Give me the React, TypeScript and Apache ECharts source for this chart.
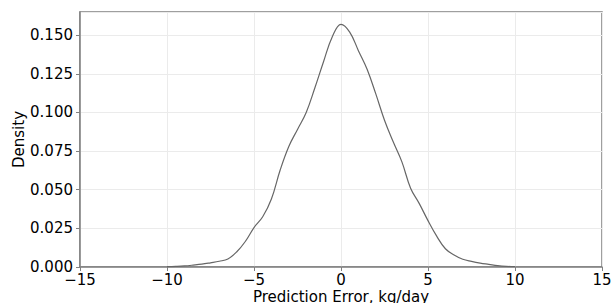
import React, { useEffect, useRef } from "react";
import * as echarts from "echarts";

const errorValues = [
  -10, -9.5, -9, -8.5, -8, -7.5, -7, -6.5, -6, -5.5, -5, -4.5, -4, -3.5, -3, -2.5, -2, -1.5, -1, -0.5,
  0, 0.5, 1, 1.5, 2, 2.5, 3, 3.5, 4, 4.5, 5, 5.5, 6, 6.5, 7, 7.5, 8, 8.5, 9, 9.5, 10,
];
const densityValues = [
  0.0002, 0.0004, 0.0007, 0.0012, 0.0018, 0.0027, 0.0037, 0.0052, 0.0097, 0.0165, 0.0255, 0.0325, 0.044,
  0.0626, 0.078, 0.089, 0.1, 0.116, 0.133, 0.149, 0.157, 0.152, 0.14, 0.128, 0.112, 0.095, 0.081, 0.068,
  0.051, 0.041, 0.03, 0.02, 0.0118, 0.0078, 0.005, 0.0036, 0.0025, 0.0017, 0.0009, 0.0004, 0.0002,
];
const xTicks = [-15, -10, -5, 0, 5, 10, 15];
const yTicks = [0, 0.025, 0.05, 0.075, 0.1, 0.125, 0.15];

const FONT = "DejaVu Sans";
const FS = 15;

export default function App() {
  const ref = useRef<HTMLDivElement>(null);
  useEffect(() => {
    if (!ref.current) return;
    const chart = echarts.init(ref.current, null, { renderer: "svg" });
    const data = errorValues.map((x, i) => [x, densityValues[i]]);
    chart.setOption({
      animation: false,
      backgroundColor: "#ffffff",
      grid: {
        left: 80,
        right: 9,
        top: 12,
        bottom: 36,
        containLabel: false,
        outerBoundsMode: "none",
        show: true,
        borderColor: "#808080",
        borderWidth: 1.5,
        backgroundColor: "transparent",
      },
      xAxis: {
        type: "value",
        min: xTicks[0],
        max: xTicks[xTicks.length - 1],
        interval: 5,
        name: "Prediction Error, kg/day",
        nameLocation: "middle",
        nameGap: 22,
        nameMoveOverlap: false,
        nameTextStyle: { fontFamily: FONT, fontSize: FS, color: "#000" },
        axisLine: { show: true, onZero: false, lineStyle: { color: "#808080", width: 1.5 } },
        axisTick: { show: true, length: 4, lineStyle: { color: "#808080", width: 1 } },
        axisLabel: {
          fontFamily: FONT,
          fontSize: FS,
          color: "#000",
          margin: 5,
          formatter: (v: number) => String(v).replace("-", "\u2212"),
        },
        splitLine: { show: true, lineStyle: { color: "#ebebeb", width: 1 } },
      },
      yAxis: {
        type: "value",
        min: 0,
        max: 0.165,
        interval: 0.025,
        name: "Density",
        nameLocation: "middle",
        nameGap: 54,
        nameMoveOverlap: false,
        nameRotate: 90,
        nameTextStyle: { fontFamily: FONT, fontSize: FS, color: "#000" },
        axisLine: { show: true, onZero: false, lineStyle: { color: "#808080", width: 1.5 } },
        axisTick: { show: true, length: 4, lineStyle: { color: "#808080", width: 1 } },
        axisLabel: {
          fontFamily: FONT,
          fontSize: FS,
          color: "#000",
          margin: 7,
          showMaxLabel: false,
          formatter: (v: number) =>
            yTicks.some((t) => Math.abs(t - v) < 1e-9) ? v.toFixed(3) : "",
        },
        splitLine: { show: true, lineStyle: { color: "#ebebeb", width: 1 } },
      },
      series: [
        {
          type: "line",
          data,
          smooth: 0.4,
          showSymbol: false,
          lineStyle: { color: "#666666", width: 1.2 },
        },
      ],
    });
    return () => chart.dispose();
  }, []);
  return <div ref={ref} style={{ width: 611, height: 303, position: "absolute", left: 0, top: 0 }} />;
}
